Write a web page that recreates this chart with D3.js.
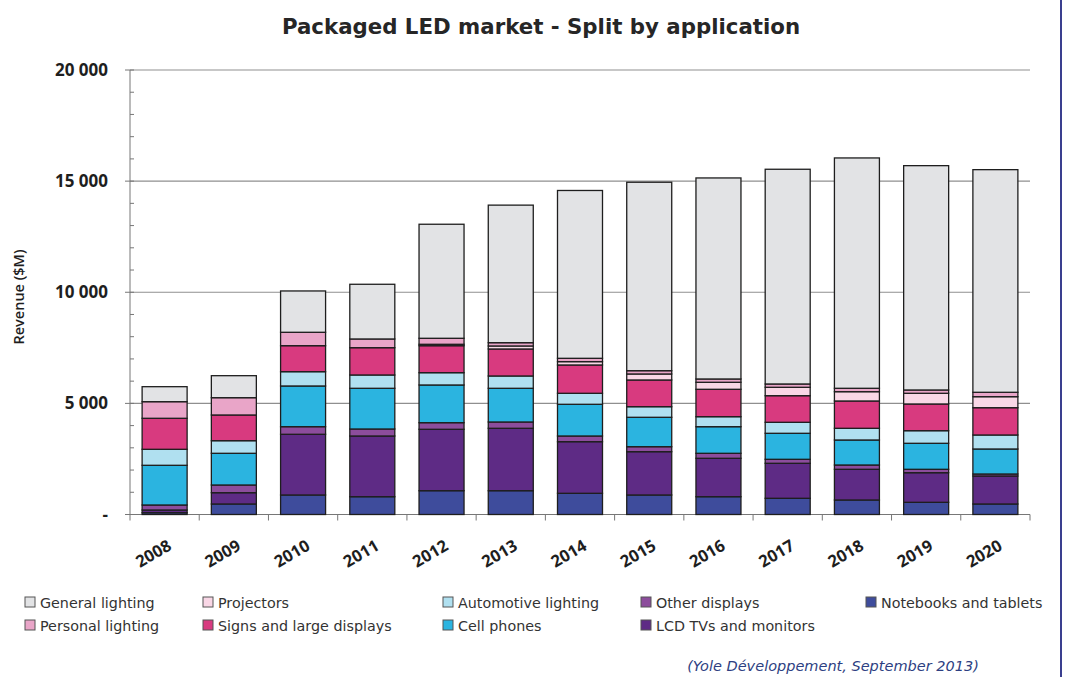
<!DOCTYPE html>
<html><head><meta charset="utf-8">
<script src="https://cdn.jsdelivr.net/npm/d3@7"></script>
<style>body{margin:0;background:#fff}svg{display:block}</style>
</head><body>
<svg id="c" width="1067" height="677"></svg>
<script>
const years = ["2008","2009","2010","2011","2012","2013","2014","2015","2016","2017","2018","2019","2020"];
// series (bottom to top)
const notebooks  = [81, 473, 878, 801, 1071, 1071, 954, 878, 801, 729, 653, 549, 473];
const lcdTVs     = [122, 508, 2731, 2732, 2763, 2808, 2322, 1948, 1728, 1575, 1381, 1332, 1260];
const otherDisp  = [225, 347, 342, 315, 297, 284, 257, 225, 225, 180, 194, 153, 90];
const cellPhones = [1786, 1426, 1832, 1831, 1697, 1516, 1426, 1323, 1197, 1170, 1125, 1170, 1125];
const automotive = [720, 567, 643, 599, 553, 554, 495, 477, 450, 495, 526, 567, 630];
const signs      = [1395, 1157, 1170, 1228, 1215, 1215, 1274, 1202, 1233, 1197, 1229, 1202, 1228];
const projectors = [0, 0, 0, 0, 63, 135, 150, 270, 315, 378, 418, 481, 495];
const personal   = [747, 778, 603, 392, 270, 148, 150, 148, 149, 149, 153, 149, 198];
const general    = [675, 990, 1859, 2461, 5131, 6189, 7551, 8479, 9045, 9661, 10364, 10093, 10017];
const yTicks = [0, 5000, 10000, 15000, 20000];
const yTickLabels = ["-", "5 000", "10 000", "15 000", "20 000"];

const seriesNames = ["Notebooks and tablets","LCD TVs and monitors","Other displays","Cell phones","Automotive lighting","Signs and large displays","Projectors","Personal lighting","General lighting"];
const seriesData = [notebooks, lcdTVs, otherDisp, cellPhones, automotive, signs, projectors, personal, general];
const colors = ["#3e4c9c","#5e2b85","#8c4d9c","#2bb4e0","#b0e0f0","#d83a7f","#f9d7e6","#e9a5c8","#e2e3e5"];

const rows = years.map((y,i)=>{const o={year:y}; seriesNames.forEach((n,k)=>o[n]=seriesData[k][i]); return o;});
const stack = d3.stack().keys(seriesNames)(rows);

const svg = d3.select("#c");
const L=130, R=1030, T=70, B=514.5;
const x = d3.scaleBand().domain(years).range([L,R]).paddingInner(0.35).paddingOuter(0.175);
const y = d3.scaleLinear().domain([0,20000]).range([B,T]);

// title
svg.append("text").attr("x",541).attr("y",34).attr("text-anchor","middle")
  .attr("font-family","DejaVu Sans").attr("font-weight","bold").attr("font-size",21.3)
  .attr("fill","#262626").text("Packaged LED market - Split by application");

// gridlines
svg.append("g").selectAll("line").data(yTicks.filter(v=>v>0)).join("line")
  .attr("x1",L).attr("x2",R).attr("y1",d=>y(d)).attr("y2",d=>y(d))
  .attr("stroke","#8f8f8f").attr("stroke-width",1.2);

// minor ticks
svg.append("g").selectAll("line").data(d3.range(0,20001,1000)).join("line")
  .attr("x1",d=>d%5000===0?125:L).attr("x2",L+4).attr("y1",d=>y(d)).attr("y2",d=>y(d))
  .attr("stroke","#777").attr("stroke-width",1);

// y axis line
svg.append("line").attr("x1",L).attr("x2",L).attr("y1",T).attr("y2",B).attr("stroke","#777");
// x axis line
svg.append("line").attr("x1",L).attr("x2",R).attr("y1",B).attr("y2",B).attr("stroke","#777");
// x ticks at band boundaries
const step = x.step();
svg.append("g").selectAll("line").data(d3.range(0,years.length+1)).join("line")
  .attr("x1",i=>L+i*step).attr("x2",i=>L+i*step).attr("y1",B).attr("y2",B+6).attr("stroke","#777");

// y tick labels
svg.append("g").selectAll("text").data(yTicks).join("text")
  .attr("x",108).attr("y",d=>y(d)+6).attr("text-anchor","end")
  .attr("font-family","Open Sans").attr("font-weight","bold").attr("font-size",17)
  .attr("fill","#1e1e1e").text((d,i)=>yTickLabels[i]);

// y title
svg.append("text").attr("transform","translate(24,297) rotate(-90)").attr("text-anchor","middle")
  .attr("font-family","Open Sans").attr("font-weight","600").attr("font-size",14.5)
  .attr("fill","#1e1e1e").text("Revenue ($M)");

// bars
svg.append("g").selectAll("g").data(stack).join("g").attr("fill",(d,i)=>colors[i])
  .selectAll("rect").data(d=>d).join("rect")
  .attr("x",d=>x(d.data.year)).attr("width",x.bandwidth())
  .attr("y",d=>y(d[1])).attr("height",d=>Math.max(0,y(d[0])-y(d[1])))
  .attr("stroke","#1e1e1e").attr("stroke-width",1.3);

// x labels
svg.append("g").selectAll("text").data(years).join("text")
  .attr("transform",d=>`translate(${x(d)+x.bandwidth()/2+8},549) rotate(-30)`)
  .attr("text-anchor","end")
  .attr("font-family","Open Sans").attr("font-weight","bold").attr("font-size",16.5)
  .attr("fill","#1e1e1e").text(d=>d);

// legend
const legendItems = [
  {name:"General lighting", c:8, x:25, row:0},
  {name:"Personal lighting", c:7, x:25, row:1},
  {name:"Projectors", c:6, x:203, row:0},
  {name:"Signs and large displays", c:5, x:203, row:1},
  {name:"Automotive lighting", c:4, x:443, row:0},
  {name:"Cell phones", c:3, x:443, row:1},
  {name:"Other displays", c:2, x:641, row:0},
  {name:"LCD TVs and monitors", c:1, x:641, row:1},
  {name:"Notebooks and tablets", c:0, x:866, row:0}
];
const lg = svg.append("g").selectAll("g").data(legendItems).join("g")
  .attr("transform",d=>`translate(${d.x},${597+d.row*23})`);
lg.append("rect").attr("width",10).attr("height",10).attr("fill",d=>colors[d.c]).attr("stroke","#555").attr("stroke-width",1);
lg.append("text").attr("x",15).attr("y",10.5).attr("font-family","DejaVu Sans").attr("font-size",14.3)
  .attr("fill","#333").text(d=>d.name);

// source
svg.append("text").attr("x",833).attr("y",671).attr("text-anchor","middle")
  .attr("font-family","DejaVu Sans").attr("font-style","italic").attr("font-size",14.5)
  .attr("fill","#2e3f82").text("(Yole Développement, September 2013)");

// right border
svg.append("line").attr("x1",1061).attr("x2",1061).attr("y1",0).attr("y2",677).attr("stroke","#3a3f8f").attr("stroke-width",2);
</script>
</body></html>
